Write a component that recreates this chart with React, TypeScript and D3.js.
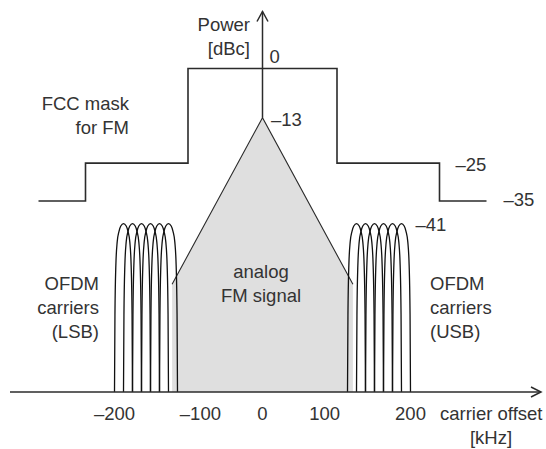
// @ts-nocheck
import React, { useRef, useEffect } from "react";
import * as d3 from "d3";

const width = 546;
const height = 449;

// FCC mask: breakpoints in kHz and level (dBc) starting at each breakpoint
const maskFreq = [-300, -240, -120, 120, 240, 300];
const maskLevel = [-35, -25, 0, -25, -35, -35];

// analog FM signal outline (kHz / dBc), -86 = down to the axis
const fmFreq = [-136, -136, 0, 136, 136];
const fmLevel = [-86, -57, -13, -57, -86];

// OFDM sub-carriers
const lsbCarriers = [-190, -180, -170, -160, -150, -140];
const usbCarriers = [140, 150, 160, 170, 180, 190];
const carrierPeak = -41;
const carrierSpacing = 10;
// shape of one lobe: offset in carrier spacings, drop from peak in dB
const lobeOffset = [-1, -0.95, -0.85, -0.7, -0.5, -0.3, 0, 0.3, 0.5, 0.7, 0.85, 0.95, 1];
const lobeDrop = [-45, -24, -11, -4.8, -2, -0.6, 0, -0.6, -2, -4.8, -11, -24, -45];

const xTicks = [-200, -100, 0, 100, 200];
const tickText = ["\u2013200", "\u2013100", "0", "100", "200"];

const levelText = ["0", "\u201313", "\u201325", "\u201335", "\u201341"];
const levelFreq = [0, 0, 240, 300, 200];
const levelDb = [0, -13, -25, -35, -41];

// the drawing is schematic, so the frequency axis is piecewise
const xKnots = [-300, -240, -200, -130, -120, 0, 120, 130, 200, 240, 300];
const xOffsets = [-224, -177, -148, -85, -74.5, 0, 74.5, 85, 148, 177, 224];

const Chart = () => {
  const ref = useRef(null);

  useEffect(() => {
    const cx = 262.5;
    const baseY = 392;
    const x = d3.scaleLinear().domain(xKnots).range(xOffsets.map((d) => cx + d));
    const y = d3.scaleLinear().domain([0, -35]).range([68.5, 201]);
    const floorDb = y.invert(baseY);
    const ink = "#2b2b2b";
    const font = "'Liberation Sans', Arial, Helvetica, sans-serif";

    d3.select(ref.current).selectAll("*").remove();
    const svg = d3
      .select(ref.current)
      .append("svg")
      .attr("width", width)
      .attr("height", height)
      .style("position", "absolute")
      .style("left", 0)
      .style("top", 0)
      .style("background", "#fff");

    const line = d3
      .line()
      .x((d) => x(d[0]))
      .y((d) => y(Math.max(d[1], floorDb)));

    // analog FM signal
    const fm = fmFreq.map((f, i) => [f, fmLevel[i]]);
    svg.append("path").attr("d", line(fm)).attr("fill", "#dfdfdf").attr("stroke", "none");
    svg
      .append("path")
      .attr("d", line(fm.slice(1, 4)))
      .attr("fill", "none")
      .attr("stroke", ink)
      .attr("stroke-width", 1.1);

    // OFDM carriers
    const lobe = d3
      .line()
      .curve(d3.curveMonotoneX)
      .x((d) => x(d[0]))
      .y((d) => y(Math.max(d[1], floorDb)));
    lsbCarriers.concat(usbCarriers).forEach((fc) => {
      const pts = lobeOffset.map((u, i) => [fc + u * carrierSpacing, carrierPeak + lobeDrop[i]]);
      svg
        .append("path")
        .attr("d", lobe(pts))
        .attr("fill", "none")
        .attr("stroke", "#111")
        .attr("stroke-width", 1.3);
    });

    // FCC mask
    const mask = d3
      .line()
      .curve(d3.curveStepAfter)
      .x((d) => x(d[0]))
      .y((d) => y(d[1]));
    svg
      .append("path")
      .attr("d", mask(maskFreq.map((f, i) => [f, maskLevel[i]])))
      .attr("fill", "none")
      .attr("stroke", ink)
      .attr("stroke-width", 1.6);

    // axes (the power axis stops at the FM peak)
    const axisG = svg.append("g").attr("stroke", ink).attr("stroke-width", 1.5).attr("fill", "none");
    axisG.append("line").attr("x1", 10).attr("x2", 541).attr("y1", baseY).attr("y2", baseY);
    axisG.append("path").attr("d", `M531,387L541,${baseY}L531,397`);
    axisG.append("line").attr("x1", x(0)).attr("x2", x(0)).attr("y1", y(-13)).attr("y2", 11.5);
    axisG.append("path").attr("d", `M${x(0) - 5.5},21.5L${x(0)},11.5L${x(0) + 5.5},21.5`);

    const text = (t, px, py, anchor = "start") =>
      svg
        .append("text")
        .attr("x", px)
        .attr("y", py)
        .attr("text-anchor", anchor)
        .attr("font-family", font)
        .attr("font-size", 18.5)
        .attr("fill", "#333")
        .text(t);

    xTicks.forEach((v, i) => text(tickText[i], x(v), 420, "middle"));

    const levelDx = [7, 8.5, 16, 17, 5];
    const levelDy = [-6, 8.5, 8, 5, 7.5];
    levelText.forEach((t, i) => text(t, x(levelFreq[i]) + levelDx[i], y(levelDb[i]) + levelDy[i]));

    text("Power", 250, 30.5, "end");
    text("[dBc]", 250, 55, "end");
    text("carrier offset", 440, 420);
    text("[kHz]", 491, 444, "middle");
    text("FCC mask", 129, 109.5, "end");
    text("for FM", 129, 134, "end");
    text("OFDM", 99, 290, "end");
    text("carriers", 99, 313.5, "end");
    text("(LSB)", 99, 338, "end");
    text("OFDM", 430, 290);
    text("carriers", 430, 313.5);
    text("(USB)", 430, 338);
    text("analog", 261, 277.5, "middle");
    text("FM signal", 261, 302, "middle");
  }, []);

  return <div ref={ref}></div>;
};

export default function App() {
  return <Chart />;
}
